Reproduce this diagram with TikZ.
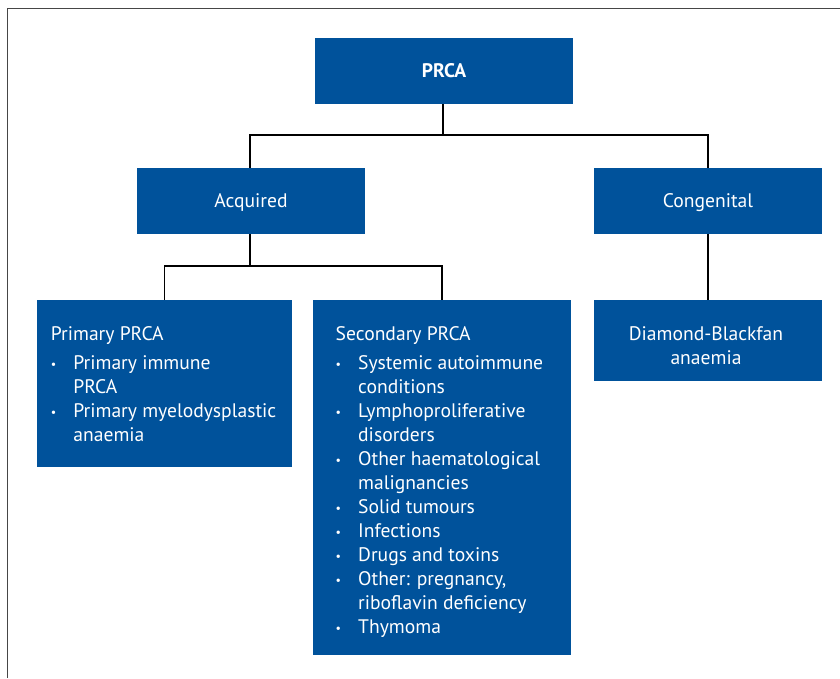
\documentclass[tikz,border=0pt]{standalone}
\usepackage{fontspec}
\setmainfont{PT Sans}
\newcommand{\bitem}{\makebox[22.5pt][l]{\raisebox{1pt}{\fontsize{12}{12}\selectfont\textbullet}}}
\newcommand{\bcont}{\hspace*{22.5pt}}
\definecolor{boxblue}{RGB}{0,82,155}
\definecolor{framegray}{RGB}{70,70,70}
\tikzset{
  box/.style={fill=boxblue, draw=none, inner sep=0pt, text=white, text height=13.4pt, text depth=0pt, font=\fontsize{19.6}{24}\selectfont},
  txt/.style={text=white, inner sep=0pt, anchor=base west, font=\fontsize{19.6}{24}\selectfont},
  ctxt/.style={text=white, inner sep=0pt, anchor=base, font=\fontsize{19.6}{23.3}\selectfont},
  conn/.style={draw=black, line width=1.3pt},
  frameline/.style={draw=framegray, line width=1.3pt}
}
\begin{document}
\begin{tikzpicture}[x=1pt,y=-1pt]
\useasboundingbox (0,0) rectangle (840,678);
\coordinate (f1) at (7.5,678);
\coordinate (f2) at (7.5,8.5);
\coordinate (f3) at (840,8.5);
\draw[frameline] (f1) -- (f2) -- (f3);

\node[box, minimum width=258pt, minimum height=66pt] (prca) at (444,71) {\bfseries PRCA};
\node[box, minimum width=228pt, minimum height=66pt] (acq) at (251,201) {Acquired};
\node[box, minimum width=228pt, minimum height=66pt] (cong) at (708,201) {Congenital};
\node[box, minimum width=255pt, minimum height=167pt] (prim) at (164.5,383.5) {};
\node[box, minimum width=258pt, minimum height=355pt] (sec) at (442,477.5) {};
\node[box, minimum width=228pt, minimum height=81pt] (dba) at (708,340.5) {};

\node[ctxt] (dbatxt) at (706,340.7) {\begin{tabular}[t]{@{}c@{}}Diamond-Blackfan\\anaemia\end{tabular}};

\node[txt] (primtxt) at (50.7,340.5) {\begin{tabular}[t]{@{}l@{}}Primary PRCA\\[5pt]
\bitem Primary immune\\
\bcont PRCA\\
\bitem Primary myelodysplastic\\
\bcont anaemia\end{tabular}};
\node[txt] (sectxt) at (335.5,340.5) {\begin{tabular}[t]{@{}l@{}}Secondary PRCA\\[5pt]
\bitem Systemic autoimmune\\
\bcont conditions\\
\bitem Lymphoproliferative\\
\bcont disorders\\
\bitem Other haematological\\
\bcont malignancies\\
\bitem Solid tumours\\
\bitem Infections\\
\bitem Drugs and toxins\\
\bitem Other: pregnancy,\\
\bcont riboflavin deficiency\\
\bitem Thymoma\end{tabular}};

\coordinate (j1) at (443,135);
\coordinate (j2) at (250,266);
\draw[conn] (prca.south -| j1) -- (j1);
\draw[conn] (acq.north -| j2) -- (j2 |- j1) -- (cong.north |- j1) -- (cong.north);
\draw[conn] (acq.south -| j2) -- (j2);
\draw[conn] (prim.north) -- (prim.north |- j2) -- (sec.north |- j2) -- (sec.north);
\draw[conn] (cong.south) -- (dba.north);
\end{tikzpicture}
\end{document}
